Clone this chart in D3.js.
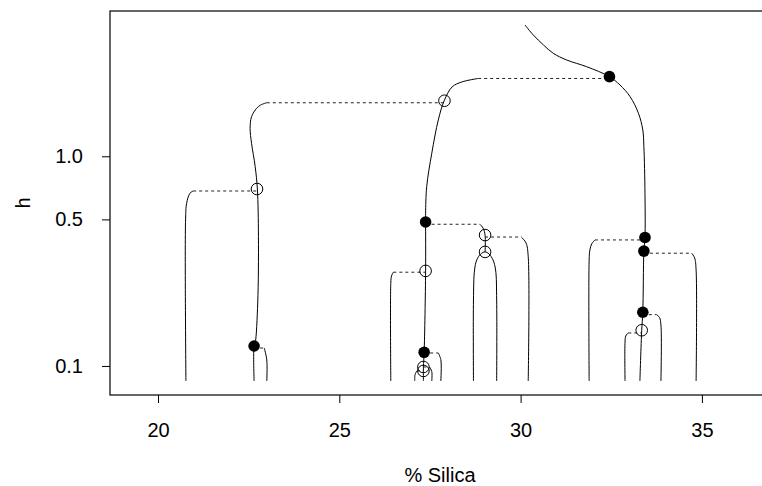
<!DOCTYPE html>
<html>
<head>
<meta charset="utf-8">
<script src="https://cdn.jsdelivr.net/npm/d3@7"></script>
<style>
  body { margin: 0; background: #fff; }
  svg { display: block; font-family: "Liberation Sans", Arial, sans-serif; }
</style>
</head>
<body>
<div id="chart"></div>
<script>
// mode tree branches: [% silica, h]
const trunkRight = [[30.12,4.228],[30.35,3.788],[30.63,3.395],[30.90,3.099],[31.27,2.879],[31.82,2.675],[32.45,2.397],[32.74,2.188],[33.02,1.924],[33.25,1.604],[33.37,1.335],[33.40,1.111],[33.43,0.666],[33.43,0.410],[33.40,0.353],[33.37,0.1804],[33.34,0.148],[33.29,0.0848]];
const middleMain = [[28.83,2.35],[28.38,2.262],[28.11,2.141],[27.89,1.835],[27.73,1.49],[27.55,1.033],[27.41,0.716],[27.38,0.535],[27.38,0.486],[27.38,0.284],[27.34,0.1162],[27.32,0.0989],[27.32,0.0848]];
const leftMain = [[23.00,1.801],[22.83,1.756],[22.72,1.694],[22.58,1.545],[22.54,1.360],[22.58,1.153],[22.68,0.892],[22.74,0.698],[22.77,0.414],[22.75,0.1998],[22.68,0.1283],[22.65,0.1245],[22.65,0.0848]];
const leftSpur = [[20.97,0.683],[20.88,0.666],[20.79,0.597],[20.76,0.497],[20.77,0.0848]];
const spur23 = [[22.93,0.1218],[23.00,0.1068],[23.00,0.0848]];
const spur26 = [[26.49,0.280],[26.44,0.2687],[26.42,0.248],[26.42,0.0848]];
const spur29 = [[28.88,0.474],[28.97,0.453],[29.02,0.421],[29.02,0.350]];
const arch29 = [[28.70,0.0848],[28.70,0.2064],[28.73,0.287],[28.79,0.320],[28.90,0.342],[29.02,0.350],[29.13,0.342],[29.24,0.320],[29.31,0.287],[29.34,0.2064],[29.34,0.0848]];
const spur30 = [[30.03,0.410],[30.15,0.386],[30.21,0.332],[30.21,0.0848]];
const spur278 = [[27.73,0.1153],[27.80,0.1072],[27.80,0.0848]];
const spur271 = [[27.14,0.0947],[27.09,0.091],[27.08,0.0848]];
const spur275 = [[27.49,0.0989],[27.55,0.094],[27.55,0.0848]];
const spur32 = [[32.05,0.399],[31.96,0.382],[31.91,0.357],[31.89,0.320],[31.89,0.0848]];
const spur348 = [[34.72,0.345],[34.80,0.3273],[34.84,0.287],[34.84,0.0848]];
const spur338 = [[33.75,0.1757],[33.83,0.1703],[33.87,0.1569],[33.87,0.0848]];
const spur329 = [[32.97,0.1437],[32.90,0.139],[32.88,0.1302],[32.88,0.0848]];
const branches = [trunkRight, middleMain, leftMain, leftSpur, spur23, spur26, spur29, arch29,
  spur30, spur278, spur271, spur275, spur32, spur348, spur338, spur329];

// dotted links: [h, x from, x to]
const links = [[2.35,28.83,32.45],[1.80,23.00,27.89],[0.683,20.97,22.74],[0.474,27.38,28.88],
  [0.412,29.02,30.03],[0.399,32.05,33.43],[0.345,33.40,34.72],[0.280,26.49,27.38],
  [0.1757,33.37,33.75],[0.1437,32.97,33.34],[0.1218,22.65,22.93],[0.1153,27.34,27.73],
  [0.0947,27.14,27.32],[0.0989,27.32,27.49]];

const filledPts = [[32.45,2.397],[27.38,0.486],[33.43,0.410],[33.40,0.353],[33.37,0.1804],[22.65,0.1245],[27.34,0.1162]];
const openPts = [[27.90,1.84],[22.73,0.698],[29.02,0.421],[29.02,0.350],[27.38,0.284],[33.34,0.148],[27.32,0.0989],[27.32,0.0947]];

const xTicks = [20, 25, 30, 35];
const yTicks = [0.1, 0.5, 1.0];

const W = 762, H = 486;
const box = { left: 110, right: 770, top: 11, bottom: 395 };

const svg = d3.select("#chart").append("svg")
  .attr("width", W).attr("height", H);

const x = d3.scaleLinear()
  .domain([18.676, 36.878])
  .range([box.left, box.right]);

const y = d3.scaleLog()
  .domain([0.0727, 4.93])
  .range([box.bottom, box.top]);

// axes
svg.append("g")
  .attr("transform", `translate(0,${box.bottom})`)
  .call(d3.axisBottom(x).tickValues(xTicks).tickSize(8).tickPadding(20).tickFormat(d3.format("d")))
  .call(g => g.select(".domain").remove())
  .call(g => g.selectAll("text").style("font-size", "20px").attr("fill", "#000"));

svg.append("g")
  .attr("transform", `translate(${box.left},0)`)
  .call(d3.axisLeft(y).tickValues(yTicks).tickSize(8).tickPadding(19).tickFormat(d3.format(".1f")))
  .call(g => g.select(".domain").remove())
  .call(g => g.selectAll("text").style("font-size", "20px").attr("fill", "#000"));

svg.append("rect")
  .attr("x", box.left).attr("y", box.top)
  .attr("width", box.right - box.left).attr("height", box.bottom - box.top)
  .attr("fill", "none").attr("stroke", "#000").attr("stroke-width", 1.2);

svg.append("text")
  .attr("x", (box.left + box.right) / 2)
  .attr("y", 482)
  .attr("text-anchor", "middle")
  .style("font-size", "20px")
  .text("% Silica");

svg.append("text")
  .attr("transform", `translate(30,${(box.top + box.bottom) / 2}) rotate(-90)`)
  .attr("text-anchor", "middle")
  .style("font-size", "20px")
  .text("h");

const line = d3.line()
  .x(d => x(d[0]))
  .y(d => y(d[1]))
  .curve(d3.curveCatmullRom.alpha(0.5));

svg.append("g").selectAll("path")
  .data(branches)
  .join("path")
  .attr("d", line)
  .attr("fill", "none")
  .attr("stroke", "#000")
  .attr("stroke-width", 1);

svg.append("g").selectAll("line")
  .data(links)
  .join("line")
  .attr("x1", d => x(d[1]))
  .attr("x2", d => x(d[2]))
  .attr("y1", d => y(d[0]))
  .attr("y2", d => y(d[0]))
  .attr("stroke", "#222")
  .attr("stroke-width", 1)
  .attr("stroke-dasharray", "3,3");

svg.append("g").selectAll("circle")
  .data(openPts)
  .join("circle")
  .attr("cx", d => x(d[0]))
  .attr("cy", d => y(d[1]))
  .attr("r", 5.8)
  .attr("fill", "none")
  .attr("stroke", "#000");

svg.append("g").selectAll("circle")
  .data(filledPts)
  .join("circle")
  .attr("cx", d => x(d[0]))
  .attr("cy", d => y(d[1]))
  .attr("r", 5.8)
  .attr("fill", "#000");
</script>
</body>
</html>
